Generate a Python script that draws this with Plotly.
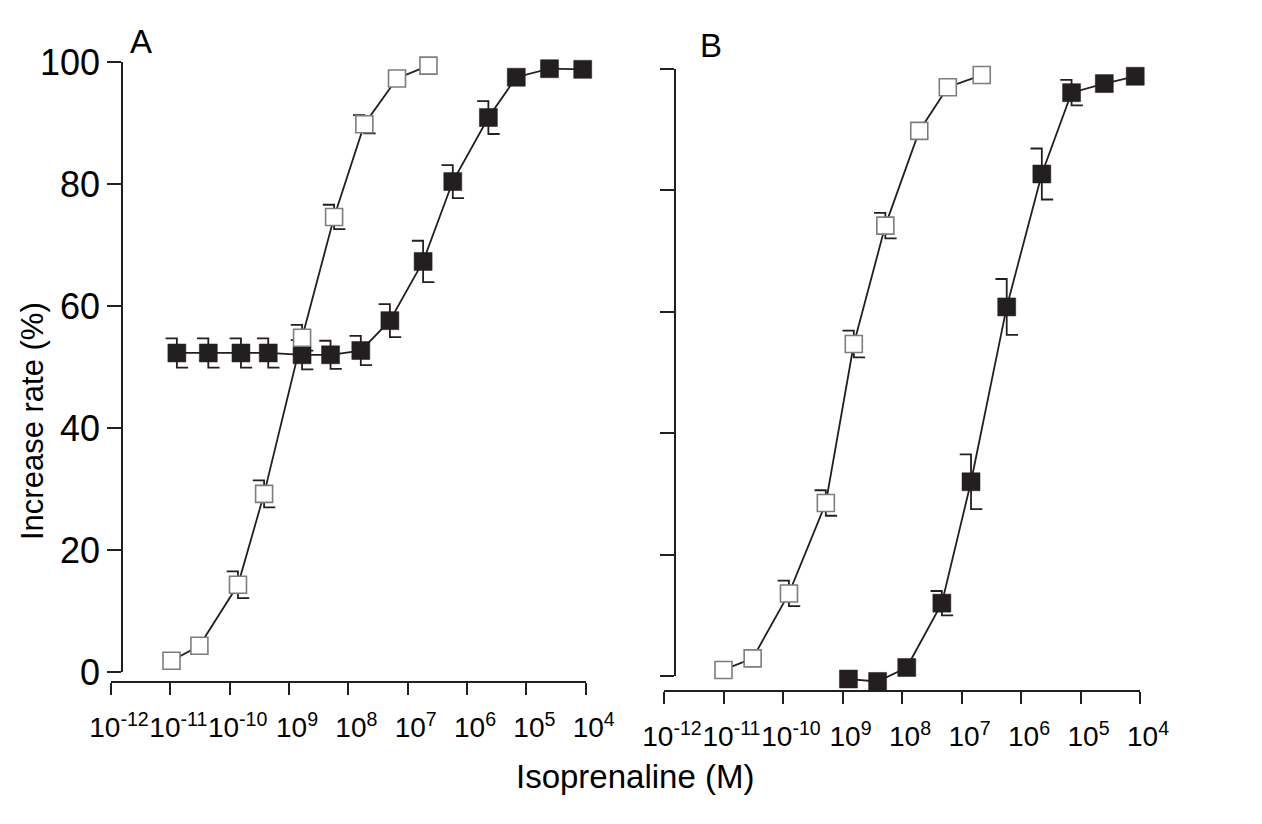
import numpy as np
import plotly.graph_objects as go

# log10 da concentração de isoprenalina (M) e aumento (%)
# Painel A
a_open_logc = [-10.98, -10.51, -9.86, -9.42, -8.78, -8.24, -7.73, -7.18, -6.65]
a_open_y = [1.85, 4.3, 14.3, 29.2, 54.8, 74.6, 89.8, 97.3, 99.4]
a_open_err = [0, 0, 2.2, 2.2, 2.1, 2.0, 1.5, 0, 0]

a_fill_logc = [-10.89, -10.36, -9.81, -9.35, -8.78, -8.30, -7.79, -7.30, -6.74, -6.24, -5.64, -5.17, -4.61, -4.05]
a_fill_y = [52.3, 52.3, 52.3, 52.3, 52.0, 52.0, 52.7, 57.6, 67.3, 80.4, 90.9, 97.5, 98.9, 98.8]
a_fill_err = [2.4, 2.4, 2.4, 2.4, 2.4, 2.3, 2.4, 2.7, 3.4, 2.7, 2.7, 0, 0, 0]

# Painel B
b_open_logc = [-11.0, -10.51, -9.90, -9.28, -8.81, -8.28, -7.71, -7.23, -6.66]
b_open_y = [1.0, 2.9, 13.6, 28.5, 54.7, 74.2, 89.8, 97.0, 99.0]
b_open_err = [0, 0, 2.1, 2.1, 2.2, 2.1, 0, 0, 0]

b_fill_logc = [-8.90, -8.41, -7.92, -7.33, -6.84, -6.24, -5.65, -5.15, -4.60, -4.08]
b_fill_y = [-0.5, -0.9, 1.4, 12.0, 32.0, 60.8, 82.7, 96.1, 97.6, 98.8]
b_fill_err = [0, 0, 0, 2.0, 4.5, 4.6, 4.2, 2.1, 0, 0]

# eixos
x_tickvals = [1e-12, 1e-11, 1e-10, 1e-9, 1e-8, 1e-7, 1e-6, 1e-5, 1e-4]
x_ticktext = ['10<sup>-12</sup>', '10<sup>-11</sup>', '10<sup>-10</sup>', '10<sup>9</sup>', '10<sup>8</sup>',
              '10<sup>7</sup>', '10<sup>6</sup>', '10<sup>5</sup>', '10<sup>4</sup>']
y_tickvals = [0, 20, 40, 60, 80, 100]

W, H = 1262, 824
INK = '#231f20'
FONT = 'Arial, Liberation Sans, sans-serif'
CAP = 0.19  # meia largura da capa em décadas


def px_x(p):
    return p / W


def px_y(p):
    return 1 - p / H


def barras_erro(logc, y, err):
    # barra superior com capa para a esquerda, inferior com capa para a direita
    xs, ys = [], []
    for lc, v, e in zip(logc, y, err):
        if e <= 0:
            continue
        xs += [10 ** lc, 10 ** lc, 10 ** (lc - CAP), None, 10 ** lc, 10 ** lc, 10 ** (lc + CAP), None]
        ys += [v, v + e, v + e, None, v, v - e, v - e, None]
    return xs, ys


fig = go.Figure()

paineis = [
    # (dados, eixo x, eixo y dados, eixo y visível)
    (dict(open=(a_open_logc, a_open_y, a_open_err), fill=(a_fill_logc, a_fill_y, a_fill_err)), 'x', 'y', 'y2'),
    (dict(open=(b_open_logc, b_open_y, b_open_err), fill=(b_fill_logc, b_fill_y, b_fill_err)), 'x2', 'y3', 'y4'),
]

for dados, xa, ya, yvis in paineis:
    for serie in ['fill', 'open']:
        ex, ey = barras_erro(*dados[serie])
        fig.add_trace(go.Scatter(x=ex, y=ey, mode='lines', xaxis=xa, yaxis=ya,
                                 line=dict(color=INK, width=1.8), hoverinfo='skip', showlegend=False))
    for serie in ['fill', 'open']:
        logc, y, _ = dados[serie]
        if serie == 'fill':
            marker = dict(symbol='square', size=18, color=INK, line=dict(color=INK, width=0.5))
        else:
            marker = dict(symbol='square', size=17, color='white', line=dict(color='#7d7d7d', width=1.6))
        fig.add_trace(go.Scatter(x=10 ** np.array(logc), y=y, mode='lines+markers', xaxis=xa, yaxis=ya,
                                 line=dict(color=INK, width=1.8), marker=marker, cliponaxis=False,
                                 showlegend=False))
    # traço vazio só para desenhar o eixo y deslocado
    fig.add_trace(go.Scatter(x=[], y=[], xaxis=xa, yaxis=yvis, showlegend=False, hoverinfo='skip'))

# geometria dos painéis em pixels: x0, x1, linha x, posição eixo y, y=0, y=100
geo = {
    'A': (111, 585.7, 682, 122, 672, 62),
    'B': (664, 1140, 691, 675, 676, 69),
}

eixo_x = dict(type='log', range=[-12, -4], tickvals=x_tickvals, ticktext=x_ticktext,
              ticks='outside', ticklen=12, tickwidth=1.6, tickcolor=INK,
              showline=True, linecolor=INK, linewidth=1.6, showgrid=False, zeroline=False,
              tickangle=0, ticklabelshift=8, ticklabelstandoff=9,
              tickfont=dict(size=28, color='black', family=FONT),
              anchor='free', automargin=False)
eixo_y = dict(range=[0, 100], tickvals=y_tickvals, ticks='outside', ticklen=14, tickwidth=1.6,
              tickcolor=INK, showline=True, linecolor=INK, linewidth=1.6, showgrid=False,
              zeroline=False, tickfont=dict(size=36, color='black', family=FONT),
              anchor='free', automargin=False)

layout_axes = {}
for nome, (xn, yd, yv) in zip(['A', 'B'], [('xaxis', 'yaxis', 'yaxis2'), ('xaxis2', 'yaxis3', 'yaxis4')]):
    x0, x1, xline, ypos, y0, y100 = geo[nome]
    ppu = (y0 - y100) / 100
    layout_axes[xn] = dict(eixo_x, domain=[px_x(x0), px_x(x1)], position=px_y(xline))
    # eixo de dados invisível, um pouco mais alto que 0-100 para não cortar as linhas
    layout_axes[yd] = dict(range=[-4, 104], domain=[px_y(y0 + 4 * ppu), px_y(y100 - 4 * ppu)],
                           visible=False, anchor='free', position=px_x(x0))
    layout_axes[yv] = dict(eixo_y, domain=[px_y(y0), px_y(y100)], position=px_x(ypos),
                           showticklabels=(nome == 'A'))

fig.update_layout(**layout_axes)

fig.update_layout(
    width=W, height=H,
    margin=dict(l=0, r=0, t=0, b=0),
    paper_bgcolor='white',
    plot_bgcolor='rgba(0,0,0,0)',
    font=dict(family=FONT, color='black'),
    showlegend=False,
    annotations=[
        dict(text='Isoprenaline (M)', x=px_x(634.5), y=px_y(776.7), xref='paper', yref='paper',
             showarrow=False, font=dict(size=33), xanchor='center', yanchor='middle'),
        dict(text='Increase rate (%)', x=px_x(32), y=px_y(421), xref='paper', yref='paper',
             showarrow=False, font=dict(size=31), textangle=-90, xanchor='center', yanchor='middle'),
        dict(text='A', x=px_x(141), y=px_y(42), xref='paper', yref='paper',
             showarrow=False, font=dict(size=33), xanchor='center', yanchor='middle'),
        dict(text='B', x=px_x(711), y=px_y(45), xref='paper', yref='paper',
             showarrow=False, font=dict(size=33), xanchor='center', yanchor='middle'),
    ],
)

# tira a margem padrão da página para o gráfico ficar no canto
fig.write_html('out.html', config={'displayModeBar': False},
               post_script="document.body.style.margin='0';")
